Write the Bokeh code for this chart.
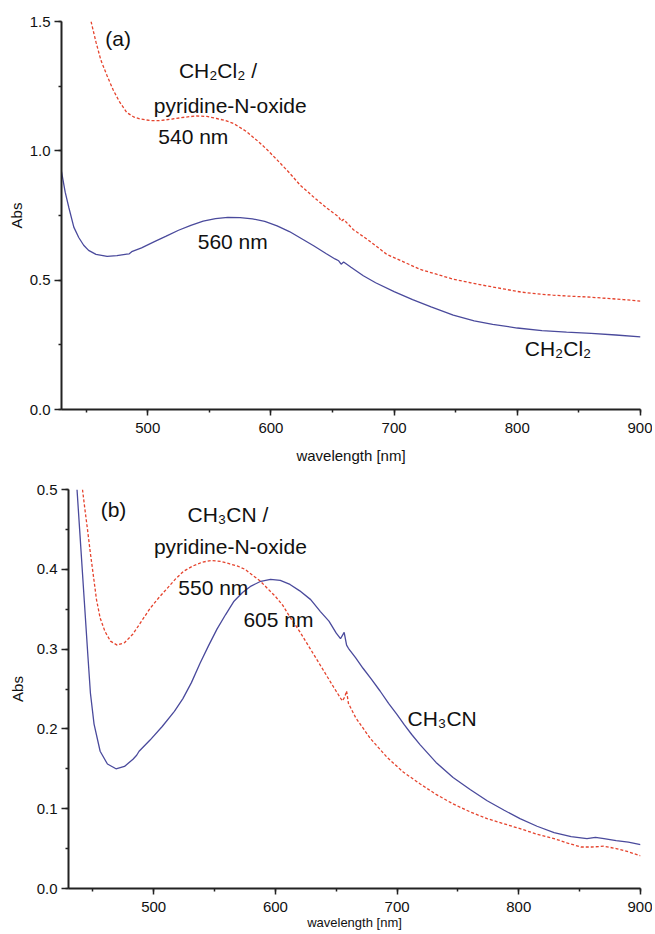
from bokeh.plotting import figure
from bokeh.layouts import column
from bokeh.models import SingleIntervalTicker, PrintfTickFormatter, Range1d, ColumnDataSource
from bokeh.core.properties import value
from bokeh.embed import file_html
from bokeh.resources import INLINE

FONT = "Liberation Sans"
BLUE = "#4a4a9c"
RED = "#e5432d"

# ---------------- panel (a) : CH2Cl2 ----------------
a_blue_wl = [430, 433, 436, 440, 444, 448, 452, 458, 467, 475, 483, 485, 487, 495, 505, 515,
             525, 535, 545, 555, 565, 575, 585, 595, 605, 615, 625, 635, 645, 652, 655, 657,
             659, 665, 675, 685, 700, 715, 730, 748, 765, 780, 800, 820, 840, 860, 880, 900]
a_blue_abs = [0.92, 0.84, 0.78, 0.705, 0.665, 0.635, 0.615, 0.600, 0.592, 0.595, 0.601, 0.602,
              0.610, 0.625, 0.648, 0.670, 0.693, 0.712, 0.728, 0.738, 0.743, 0.742, 0.737,
              0.727, 0.710, 0.688, 0.660, 0.632, 0.602, 0.582, 0.575, 0.562, 0.570, 0.550,
              0.517, 0.490, 0.456, 0.425, 0.397, 0.365, 0.343, 0.329, 0.315, 0.305, 0.299,
              0.294, 0.288, 0.281]

a_red_wl = [454, 458, 462, 467, 472, 477, 483, 489, 494, 502, 510, 520, 530, 540, 548, 556,
            563, 570, 580, 590, 597, 605, 615, 624, 635, 645, 652, 655, 657, 659, 667, 679,
            694, 708, 721, 735, 748, 762, 776, 790, 803, 816, 829, 843, 857, 872, 886, 900]
a_red_abs = [1.50, 1.42, 1.35, 1.29, 1.235, 1.19, 1.148, 1.13, 1.123, 1.117, 1.117, 1.123,
             1.13, 1.135, 1.133, 1.125, 1.117, 1.105, 1.075, 1.035, 1.004, 0.965, 0.915,
             0.866, 0.82, 0.78, 0.755, 0.745, 0.728, 0.735, 0.695, 0.655, 0.60, 0.57, 0.542,
             0.522, 0.504, 0.49, 0.477, 0.465, 0.454, 0.447, 0.442, 0.438, 0.435, 0.43,
             0.425, 0.419]

a_text = ["(a)", "CH\u2082Cl\u2082 /", "pyridine-N-oxide", "540 nm", "560 nm", "CH\u2082Cl\u2082"]
a_text_x = [476, 557, 567, 537, 569, 833]
a_text_y = [1.435, 1.312, 1.177, 1.054, 0.65, 0.235]
a_text_size = ["21px", "21px", "21px", "21px", "21px", "21px"]

# ---------------- panel (b) : CH3CN ----------------
b_blue_wl = [437, 440, 443, 446, 448, 451, 456, 462, 469, 476, 483, 486, 488, 497, 507, 517,
             524, 531, 538, 545, 552, 559, 566, 573, 580, 588, 596, 604, 612, 620, 629,
             637, 644, 650, 653.5, 656.5, 658.5, 660, 666, 672, 679, 686, 693, 700, 706,
             712, 719, 732, 746, 760, 774, 788, 801, 815, 829, 843, 856, 863, 870, 880,
             890, 900]
b_blue_abs = [0.50, 0.43, 0.36, 0.29, 0.245, 0.206, 0.172, 0.156, 0.150, 0.153, 0.162, 0.167,
              0.172, 0.186, 0.203, 0.222, 0.238, 0.258, 0.282, 0.304, 0.325, 0.343,
              0.360, 0.371, 0.379, 0.385, 0.3875, 0.386, 0.381, 0.373, 0.362, 0.347, 0.335,
              0.32, 0.313, 0.321, 0.305, 0.301, 0.289, 0.276, 0.262, 0.2475, 0.232,
              0.218, 0.205, 0.193, 0.180, 0.158, 0.139, 0.124, 0.11, 0.098, 0.0875, 0.078,
              0.07, 0.065, 0.0625, 0.064, 0.0625, 0.06, 0.058, 0.055]

b_red_wl = [441.5, 443.5, 445.6, 448, 450.7, 453, 456, 460, 464.5, 470, 476, 483, 490, 497,
            504, 511, 518, 524.5, 532, 540, 547, 555, 562, 569, 575, 580, 587, 593.5, 600,
            606, 612, 620, 630, 640, 648, 655, 657, 658.5, 660, 666, 678, 692, 705, 719,
            732, 746, 760, 774, 788, 801, 815, 829, 840, 851, 860, 870, 880, 890, 900]
b_red_abs = [0.50, 0.475, 0.45, 0.42, 0.389, 0.362, 0.339, 0.322, 0.31, 0.305, 0.308, 0.319,
             0.335, 0.351, 0.364, 0.376, 0.388, 0.3975, 0.404, 0.409, 0.411, 0.410, 0.407,
             0.404, 0.400, 0.394, 0.386, 0.376, 0.366, 0.355, 0.34, 0.322, 0.297, 0.272,
             0.252, 0.235, 0.24, 0.2475, 0.232, 0.214, 0.188, 0.164, 0.146, 0.131, 0.118,
             0.106, 0.096, 0.0875, 0.081, 0.075, 0.068, 0.0625, 0.057, 0.052, 0.052, 0.053,
             0.05, 0.046, 0.041]

b_text = ["(b)", "CH\u2083CN /", "pyridine-N-oxide", "550 nm", "605 nm", "CH\u2083CN"]
b_text_x = [467, 561, 563, 549, 602.5, 737]
b_text_y = [0.475, 0.469, 0.429, 0.3775, 0.3375, 0.2125]
b_text_size = ["21px", "21px", "21px", "21px", "21px", "21px"]

X_RANGE = (430, 900)
X_TICK = 100
A_Y_RANGE = (0, 1.5)
A_Y_TICK = 0.5
B_Y_RANGE = (0, 0.5)
B_Y_TICK = 0.1


def make_panel(height, border_left, border_top, border_bottom, y_range, y_tick,
               y_label_standoff, x_label_standoff, x_label_size,
               blue_x, blue_y, red_x, red_y, tx, ty, tt, ts):
    p = figure(width=652, height=height, output_backend="svg", toolbar_location=None,
               x_range=Range1d(*X_RANGE), y_range=Range1d(*y_range),
               min_border_left=border_left, min_border_right=12,
               min_border_top=border_top, min_border_bottom=border_bottom)
    p.frame_align = False
    p.outline_line_color = None
    p.grid.visible = False
    p.background_fill_color = "white"
    p.border_fill_color = "white"

    p.line(blue_x, blue_y, line_color=BLUE, line_width=1.3)
    p.line(red_x, red_y, line_color=RED, line_width=1.3, line_dash="3 2")

    src = ColumnDataSource(dict(x=tx, y=ty, t=tt, s=ts))
    p.text(x="x", y="y", text="t", source=src, text_font=value(FONT),
           text_font_size="s", text_align="center", text_baseline="middle",
           text_color="#111111")

    p.xaxis.ticker = SingleIntervalTicker(interval=X_TICK, num_minor_ticks=2)
    p.yaxis.ticker = SingleIntervalTicker(interval=y_tick, num_minor_ticks=2)
    p.yaxis.formatter = PrintfTickFormatter(format="%.1f")

    for ax in (p.xaxis[0], p.yaxis[0]):
        ax.axis_line_width = 2
        ax.axis_line_color = "#222222"
        ax.major_tick_line_color = "#222222"
        ax.minor_tick_line_color = "#222222"
        ax.major_tick_line_width = 1.5
        ax.minor_tick_line_width = 1.5
        ax.major_tick_in = 0
        ax.major_tick_out = 7
        ax.minor_tick_in = 0
        ax.minor_tick_out = 3
        ax.major_label_text_font = FONT
        ax.major_label_text_font_size = "15px"
        ax.major_label_text_color = "#111111"
        ax.axis_label_text_font = FONT
        ax.axis_label_text_font_style = "normal"
        ax.axis_label_text_color = "#111111"

    p.xaxis.major_tick_out = 6
    p.xaxis.major_label_standoff = 7
    p.xaxis.axis_label = "wavelength [nm]"
    p.xaxis.axis_label_text_font_size = x_label_size
    p.xaxis.axis_label_standoff = x_label_standoff

    p.yaxis.major_label_standoff = 4
    p.yaxis.axis_label = "Abs"
    p.yaxis.axis_label_text_font_size = "15px"
    p.yaxis.axis_label_standoff = y_label_standoff
    return p


p1 = make_panel(466, 61, 21, 55, A_Y_RANGE, A_Y_TICK, 2, 11, "15px",
                a_blue_wl, a_blue_abs, a_red_wl, a_red_abs,
                a_text_x, a_text_y, a_text, a_text_size)
p2 = make_panel(468, 68, 23, 46, B_Y_RANGE, B_Y_TICK, 8, 0, "13px",
                b_blue_wl, b_blue_abs, b_red_wl, b_red_abs,
                b_text_x, b_text_y, b_text, b_text_size)

layout = column(p1, p2, spacing=0)
open("out.html", "w").write(file_html(layout, INLINE))
